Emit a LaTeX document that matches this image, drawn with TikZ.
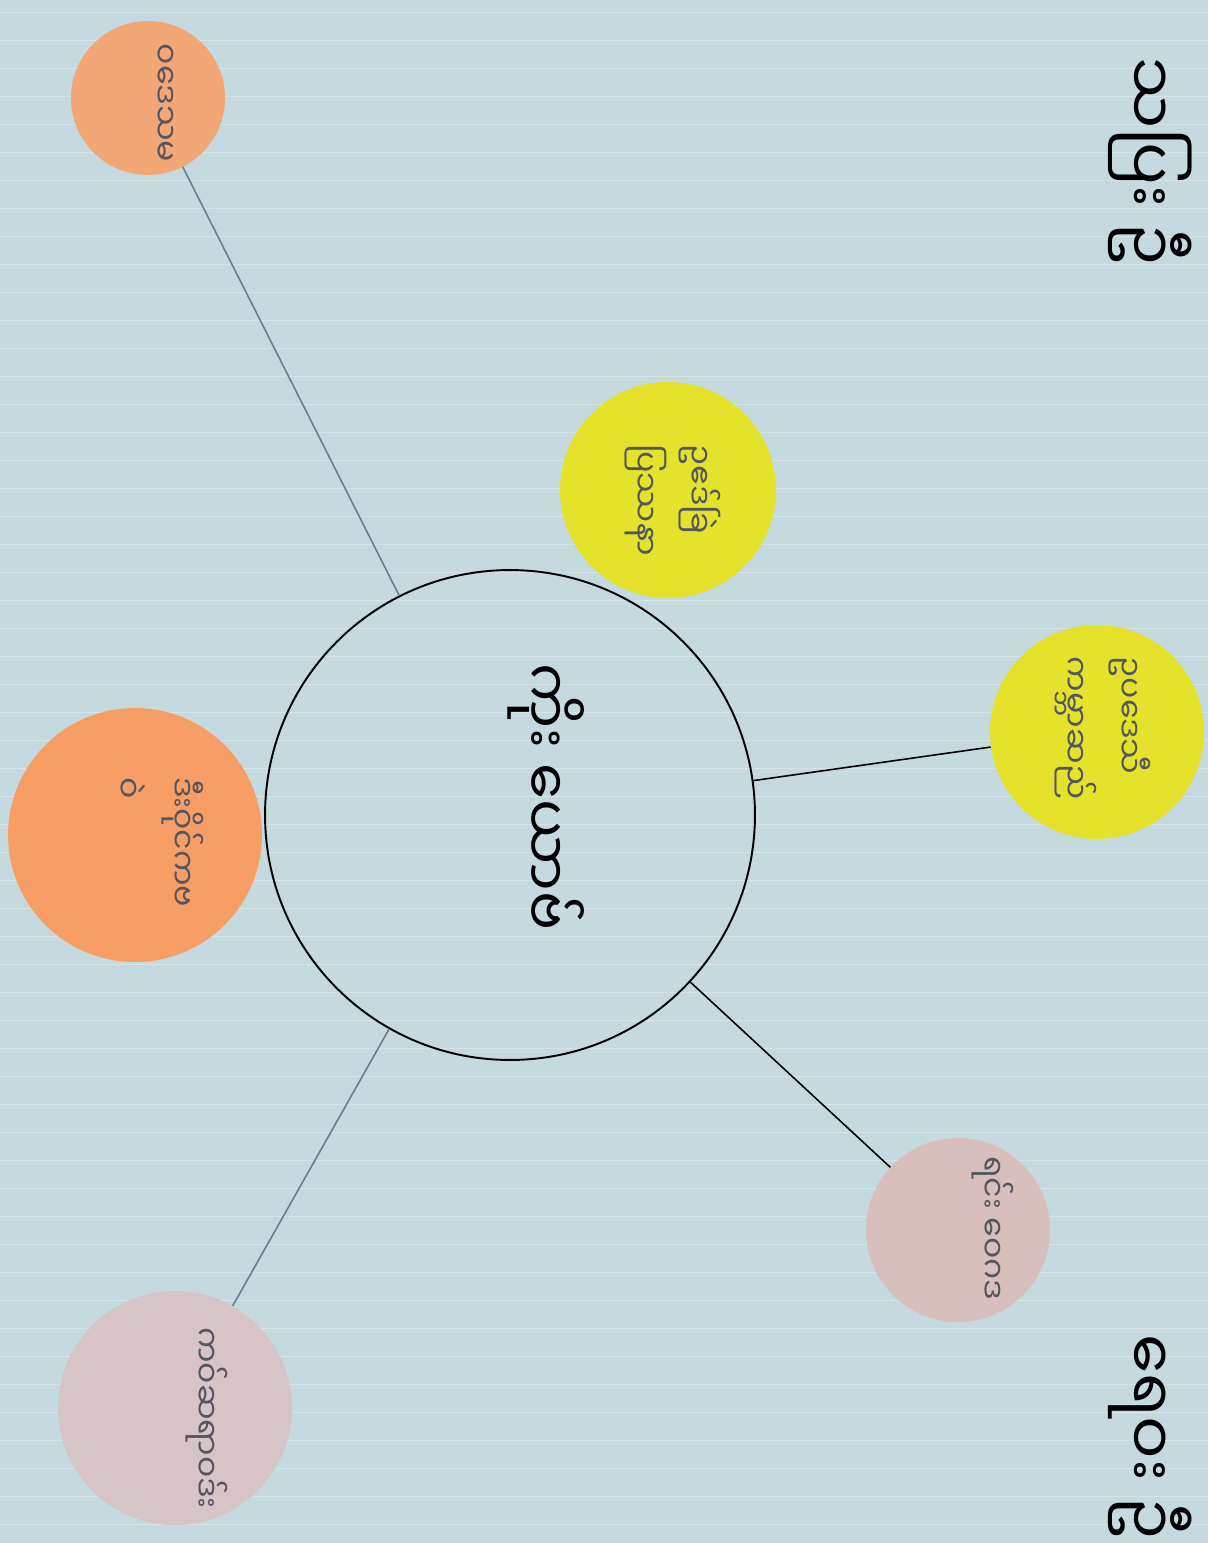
\documentclass[tikz,border=0pt]{standalone}
\usepackage{fontspec}
\newfontfamily\mmfont[Script=Myanmar]{Noto Sans Myanmar UI}
\usetikzlibrary{positioning}

\definecolor{paper}{RGB}{196,218,222}
\definecolor{peach}{RGB}{243,166,118}
\definecolor{tangerine}{RGB}{247,158,102}
\definecolor{lemon}{RGB}{228,226,42}
\definecolor{rosegray}{RGB}{216,190,188}
\definecolor{mauvegray}{RGB}{214,196,198}
\definecolor{pencil}{RGB}{105,125,145}
\definecolor{inkgray}{RGB}{85,85,95}

\begin{document}
\begin{tikzpicture}[x=0.02cm, y=-0.02cm,
  bubble/.style={circle, inner sep=0pt},
  core/.style={circle, draw=black, line width=1.1pt, inner sep=0pt, minimum size=9.8cm},
  note/.style={rotate=-90, align=left, text=inkgray, font=\mmfont\fontsize{18}{31}\selectfont},
  heading/.style={rotate=-90, font=\mmfont\fontsize{36}{40}\selectfont},
  link/.style={line width=0.9pt}
]
\useasboundingbox (0,0) rectangle (1208,1543);
\fill[paper] (0,0) rectangle (1208,1543);
\foreach \y in {12,40,...,1543}
  \draw[white, opacity=0.3, line width=0.5pt] (0,\y) -- (1208,\y);

% bubbles
\node[bubble, fill=peach, minimum size=3.08cm] (otop) at (148,98) {};
\node[bubble, fill=tangerine, minimum size=5.08cm] (obig) at (135,835) {};
\node[bubble, fill=lemon, minimum size=4.32cm] (ya) at (668,490) {};
\node[bubble, fill=lemon, minimum size=4.28cm] (yb) at (1097,732) {};
\node[bubble, fill=rosegray, minimum size=3.68cm] (pr) at (958,1230) {};
\node[bubble, fill=mauvegray, minimum size=4.68cm] (pbl) at (175,1408) {};
\node[core] (hub) at (510,815) {};

% texts
\node[note] (totop) at (164,103) {ဝဒေသမ};
\node[note] (tobig) at (160,842) {ဒီးဝိုင်ကဗ\\ဝဲ};
\node[note] (tya) at (673,500) {ဥဧဒ်ခြဲ\\ပြဿနာ};
\node[note] (tyb) at (1103,728) {ဥပဒေသီ\\ကမ္ဘာဆည်};
\node[note] (tpr) at (993,1228) {ရင်း ဝေဂဒ};
\node[note] (tpbl) at (207,1418) {ကဝ်ဆရာဝဒ်း};
\node[rotate=-90, font=\mmfont\fontsize{33}{36}\selectfont] (thub) at (546,797) {ကိုး ယောဗ်};

% heading
\node[heading, anchor=east] (head) at (1150,272) {သပြး ဦ};
\node[heading, anchor=west] (class) at (1150,1328) {ရေဝး ဦ};

% links
\draw[link, pencil] (otop) -- (hub);
\draw[link, black] (hub) -- (yb);
\draw[link, black] (hub) -- (pr);
\draw[link, pencil] (hub) -- (pbl);
\end{tikzpicture}
\end{document}
